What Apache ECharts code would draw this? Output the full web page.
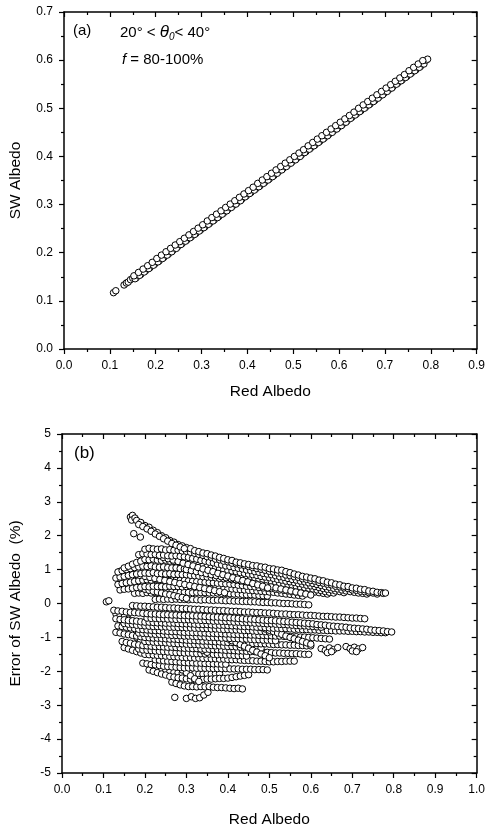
<!DOCTYPE html>
<html><head><meta charset="utf-8">
<script src="https://cdn.jsdelivr.net/npm/echarts@6/dist/echarts.min.js"></script>
<style>html,body{margin:0;padding:0;background:#fff}#c{width:488px;height:831px}</style>
</head><body><div id="c"></div>
<script>
// ---------- tick labels ----------
const topXLabels = ['0.0','0.1','0.2','0.3','0.4','0.5','0.6','0.7','0.8','0.9'];
const topYLabels = ['0.0','0.1','0.2','0.3','0.4','0.5','0.6','0.7'];
const botXLabels = ['0.0','0.1','0.2','0.3','0.4','0.5','0.6','0.7','0.8','0.9','1.0'];
const botYLabels = ['-5','-4','-3','-2','-1','0','1','2','3','4','5'];

// ---------- panel (a): Red albedo vs SW albedo ----------
const topPoints = [
[0.108,0.117],[0.113,0.121],[0.131,0.133],[0.136,0.137],[0.140,0.139],[0.145,0.144],[0.150,0.147],[0.155,0.146],
[0.160,0.154],[0.165,0.153],[0.170,0.161],[0.175,0.160],[0.180,0.168],[0.185,0.167],[0.190,0.175],[0.195,0.174],
[0.200,0.182],[0.205,0.181],[0.210,0.189],[0.215,0.188],[0.220,0.196],[0.225,0.195],[0.230,0.203],[0.235,0.202],
[0.240,0.210],[0.245,0.209],[0.250,0.218],[0.255,0.217],[0.260,0.225],[0.265,0.224],[0.270,0.232],[0.275,0.231],
[0.280,0.239],[0.285,0.238],[0.290,0.246],[0.295,0.245],[0.300,0.253],[0.305,0.252],[0.310,0.260],[0.315,0.259],
[0.320,0.267],[0.325,0.266],[0.330,0.274],[0.335,0.273],[0.340,0.281],[0.345,0.280],[0.350,0.288],[0.355,0.287],
[0.360,0.295],[0.365,0.294],[0.370,0.302],[0.375,0.301],[0.380,0.309],[0.385,0.308],[0.390,0.317],[0.395,0.316],
[0.400,0.324],[0.405,0.323],[0.410,0.331],[0.415,0.330],[0.420,0.338],[0.425,0.337],[0.430,0.345],[0.435,0.344],
[0.440,0.352],[0.445,0.351],[0.450,0.359],[0.455,0.358],[0.460,0.366],[0.465,0.365],[0.470,0.373],[0.475,0.372],
[0.480,0.380],[0.485,0.379],[0.490,0.387],[0.495,0.386],[0.500,0.394],[0.505,0.393],[0.510,0.401],[0.515,0.400],
[0.520,0.409],[0.525,0.408],[0.530,0.416],[0.535,0.415],[0.540,0.423],[0.545,0.422],[0.550,0.430],[0.555,0.429],
[0.560,0.437],[0.565,0.436],[0.570,0.444],[0.575,0.443],[0.580,0.451],[0.585,0.450],[0.590,0.458],[0.595,0.457],
[0.600,0.465],[0.605,0.464],[0.610,0.472],[0.615,0.471],[0.620,0.480],[0.625,0.479],[0.630,0.487],[0.635,0.486],
[0.640,0.494],[0.645,0.493],[0.650,0.501],[0.655,0.500],[0.660,0.508],[0.665,0.507],[0.670,0.515],[0.675,0.514],
[0.680,0.522],[0.685,0.521],[0.690,0.529],[0.695,0.528],[0.700,0.536],[0.705,0.535],[0.710,0.543],[0.715,0.542],
[0.720,0.551],[0.725,0.550],[0.730,0.558],[0.735,0.557],[0.740,0.565],[0.745,0.564],[0.750,0.572],[0.755,0.571],
[0.760,0.579],[0.765,0.578],[0.770,0.586],[0.775,0.585],[0.780,0.593],[0.785,0.592],[0.790,0.600],[0.793,0.602]
];
const topPointsUpper = [
[0.1525,0.152],[0.1625,0.159],[0.1725,0.166],[0.1825,0.173],[0.1925,0.180],[0.2025,0.188],[0.2125,0.195],[0.2225,0.202],
[0.2325,0.209],[0.2425,0.216],[0.2525,0.223],[0.2625,0.230],[0.2725,0.237],[0.2825,0.244],[0.2925,0.251],[0.3025,0.258],
[0.3125,0.266],[0.3225,0.273],[0.3325,0.280],[0.3425,0.287],[0.3525,0.294],[0.3625,0.301],[0.3725,0.308],[0.3825,0.315],
[0.3925,0.322],[0.4025,0.329],[0.4125,0.336],[0.4225,0.344],[0.4325,0.351],[0.4425,0.358],[0.4525,0.365],[0.4625,0.372],
[0.4725,0.379],[0.4825,0.386],[0.4925,0.393],[0.5025,0.400],[0.5125,0.407],[0.5225,0.414],[0.5325,0.422],[0.5425,0.429],
[0.5525,0.436],[0.5625,0.443],[0.5725,0.450],[0.5825,0.457],[0.5925,0.464],[0.6025,0.471],[0.6125,0.478],[0.6225,0.485],
[0.6325,0.492],[0.6425,0.500],[0.6525,0.507],[0.6625,0.514],[0.6725,0.521],[0.6825,0.528],[0.6925,0.535],[0.7025,0.542],
[0.7125,0.549],[0.7225,0.556],[0.7325,0.563],[0.7425,0.570],[0.7525,0.578],[0.7625,0.585],[0.7725,0.592],[0.7825,0.599]
];
const topPointsLower = [
[0.1575,0.148],[0.1675,0.155],[0.1775,0.162],[0.1875,0.169],[0.1975,0.176],[0.2075,0.183],[0.2175,0.190],[0.2275,0.197],
[0.2375,0.205],[0.2475,0.212],[0.2575,0.219],[0.2675,0.226],[0.2775,0.233],[0.2875,0.240],[0.2975,0.247],[0.3075,0.254],
[0.3175,0.261],[0.3275,0.268],[0.3375,0.275],[0.3475,0.282],[0.3575,0.290],[0.3675,0.297],[0.3775,0.304],[0.3875,0.311],
[0.3975,0.318],[0.4075,0.325],[0.4175,0.332],[0.4275,0.339],[0.4375,0.346],[0.4475,0.353],[0.4575,0.360],[0.4675,0.368],
[0.4775,0.375],[0.4875,0.382],[0.4975,0.389],[0.5075,0.396],[0.5175,0.403],[0.5275,0.410],[0.5375,0.417],[0.5475,0.424],
[0.5575,0.431],[0.5675,0.438],[0.5775,0.446],[0.5875,0.453],[0.5975,0.460],[0.6075,0.467],[0.6175,0.474],[0.6275,0.481],
[0.6375,0.488],[0.6475,0.495],[0.6575,0.502],[0.6675,0.509],[0.6775,0.516],[0.6875,0.524],[0.6975,0.531],[0.7075,0.538],
[0.7175,0.545],[0.7275,0.552],[0.7375,0.559],[0.7475,0.566],[0.7575,0.573],[0.7675,0.580],[0.7775,0.587]
];

// ---------- panel (b): Red albedo vs error of SW albedo (%) ----------
const errTopStreak = [
[0.165,2.55],[0.170,2.60],[0.168,2.46],[0.176,2.52],[0.180,2.45],[0.190,2.39],[0.200,2.30],[0.210,2.25],[0.220,2.16],
[0.230,2.09],[0.240,2.00],[0.250,1.94],[0.260,1.86],[0.270,1.81],[0.280,1.74],[0.290,1.70],[0.300,1.65],[0.310,1.62],
[0.320,1.56],[0.330,1.53],[0.340,1.49],[0.350,1.47],[0.360,1.43],[0.370,1.40],[0.380,1.36],[0.390,1.33],[0.400,1.29],
[0.410,1.27],[0.420,1.22],[0.430,1.20],[0.440,1.17],[0.450,1.15],[0.460,1.12],[0.470,1.11],[0.480,1.08],[0.490,1.07],
[0.500,1.03],[0.510,1.02],[0.520,0.99],[0.530,0.98],[0.540,0.94],[0.550,0.91],[0.560,0.87],[0.570,0.84],[0.580,0.80],
[0.590,0.78],[0.600,0.75],[0.610,0.73],[0.620,0.69],[0.630,0.67],[0.640,0.63],[0.650,0.61],[0.660,0.57],[0.670,0.55],
[0.680,0.51],[0.690,0.50],[0.700,0.46],[0.710,0.45],[0.720,0.42],[0.730,0.41],[0.740,0.37],[0.750,0.36],[0.760,0.33],
[0.770,0.32],[0.775,0.30],[0.780,0.31],
[0.173,2.06],[0.189,1.96],[0.185,2.33],[0.195,2.27],[0.205,2.20],[0.215,2.13],[0.225,2.05],[0.235,1.98],[0.245,1.91],
[0.255,1.84],[0.265,1.77],[0.275,1.72],[0.285,1.67],[0.295,1.62]
];
const errUp1 = [
[0.20,1.60],[0.21,1.63],[0.22,1.61],[0.23,1.60],[0.24,1.61],[0.25,1.58],[0.26,1.59],[0.27,1.57],[0.28,1.57],[0.29,1.55],
[0.30,1.54],[0.31,1.51],[0.32,1.48],[0.33,1.45],[0.34,1.42],[0.35,1.38],[0.36,1.36],[0.37,1.31],[0.38,1.29],[0.39,1.25],
[0.40,1.23],[0.41,1.19],[0.42,1.17],[0.43,1.14],[0.44,1.12],[0.45,1.09],[0.46,1.06],[0.47,1.03],[0.48,1.01],[0.49,0.98],
[0.50,0.95],[0.51,0.93],[0.52,0.90],[0.53,0.88],[0.54,0.84],[0.55,0.82],[0.56,0.79],[0.57,0.77],[0.58,0.73],[0.59,0.71],
[0.60,0.68],[0.61,0.66],[0.62,0.62],[0.63,0.60],[0.64,0.57],[0.65,0.55],[0.66,0.51],[0.67,0.49],[0.68,0.46],[0.69,0.44],
[0.70,0.40],[0.71,0.39],[0.72,0.36],[0.73,0.35],[0.74,0.32],[0.75,0.31],[0.76,0.28]
];
const errUp2 = [
[0.185,1.44],[0.195,1.47],[0.205,1.46],[0.215,1.44],[0.225,1.45],[0.235,1.42],[0.245,1.43],[0.255,1.41],[0.265,1.40],
[0.275,1.41],[0.285,1.39],[0.295,1.38],[0.305,1.36],[0.315,1.33],[0.325,1.31],[0.335,1.27],[0.345,1.25],[0.355,1.22],
[0.365,1.20],[0.375,1.16],[0.385,1.14],[0.395,1.11],[0.405,1.09],[0.415,1.06],[0.425,1.04],[0.435,1.02],[0.445,0.99],
[0.455,0.97],[0.465,0.94],[0.475,0.92],[0.485,0.89],[0.495,0.87],[0.505,0.85],[0.515,0.82],[0.525,0.79],[0.535,0.77],
[0.545,0.74],[0.555,0.71],[0.565,0.69],[0.575,0.66],[0.585,0.64],[0.595,0.61],[0.605,0.59],[0.615,0.56],[0.625,0.53],
[0.635,0.50],[0.645,0.48],[0.655,0.45],[0.665,0.43],[0.675,0.40],[0.685,0.37],[0.695,0.35],[0.705,0.33],[0.715,0.31],
[0.725,0.30],[0.735,0.28]
];
const errUp3 = [
[0.15,1.05],[0.16,1.10],[0.17,1.16],[0.18,1.21],[0.19,1.25],[0.20,1.30],[0.21,1.29],[0.22,1.31],[0.23,1.28],[0.24,1.27],
[0.25,1.28],[0.26,1.25],[0.27,1.24],[0.28,1.23],[0.29,1.21],[0.30,1.20],[0.31,1.18],[0.32,1.16],[0.33,1.13],[0.34,1.12],
[0.35,1.09],[0.36,1.07],[0.37,1.05],[0.38,1.02],[0.39,1.00],[0.40,0.98],[0.41,0.96],[0.42,0.94],[0.43,0.91],[0.44,0.89],
[0.45,0.87],[0.46,0.85],[0.47,0.83],[0.48,0.80],[0.49,0.78],[0.50,0.76],[0.51,0.74],[0.52,0.71],[0.53,0.69],[0.54,0.66],
[0.55,0.64],[0.56,0.62],[0.57,0.59],[0.58,0.57],[0.59,0.54],[0.60,0.52],[0.61,0.50],[0.62,0.47],[0.63,0.44],[0.64,0.42],
[0.65,0.40],[0.66,0.37],[0.67,0.35],[0.68,0.32]
];
const errUp4 = [
[0.135,0.93],[0.145,0.97],[0.155,1.00],[0.165,1.03],[0.175,1.06],[0.185,1.08],[0.195,1.10],[0.205,1.09],[0.215,1.11],
[0.225,1.08],[0.235,1.07],[0.245,1.08],[0.255,1.06],[0.265,1.05],[0.275,1.05],[0.285,1.03],[0.295,1.02],[0.305,1.01],
[0.315,0.99],[0.325,0.97],[0.335,0.96],[0.345,0.94],[0.355,0.92],[0.365,0.90],[0.375,0.89],[0.385,0.87],[0.395,0.86],
[0.405,0.84],[0.415,0.82],[0.425,0.80],[0.435,0.78],[0.445,0.76],[0.455,0.75],[0.465,0.73],[0.475,0.71],[0.485,0.69],
[0.495,0.67],[0.505,0.65],[0.515,0.63],[0.525,0.60],[0.535,0.58],[0.545,0.56],[0.555,0.54],[0.565,0.51],[0.575,0.49],
[0.585,0.47],[0.595,0.45],[0.605,0.43],[0.615,0.40],[0.625,0.38],[0.635,0.35],[0.645,0.33],[0.655,0.31]
];
const errUp5 = [
[0.13,0.75],[0.14,0.78],[0.15,0.80],[0.16,0.83],[0.17,0.85],[0.18,0.87],[0.19,0.88],[0.20,0.90],[0.21,0.89],[0.22,0.91],
[0.23,0.88],[0.24,0.88],[0.25,0.87],[0.26,0.88],[0.27,0.86],[0.28,0.86],[0.29,0.85],[0.30,0.85],[0.31,0.83],[0.32,0.82],
[0.33,0.81],[0.34,0.79],[0.35,0.78],[0.36,0.77],[0.37,0.76],[0.38,0.74],[0.39,0.73],[0.40,0.72],[0.41,0.70],[0.42,0.69],
[0.43,0.67],[0.44,0.65],[0.45,0.64],[0.46,0.62],[0.47,0.61],[0.48,0.59],[0.49,0.58],[0.50,0.56],[0.51,0.54],[0.52,0.52],
[0.53,0.50],[0.54,0.48],[0.55,0.46],[0.56,0.44],[0.57,0.42],[0.58,0.40],[0.59,0.38],[0.60,0.36],[0.61,0.34],[0.62,0.32],
[0.63,0.30],[0.64,0.28]
];
const errUp6 = [
[0.135,0.56],[0.145,0.59],[0.155,0.61],[0.165,0.63],[0.175,0.65],[0.185,0.67],[0.195,0.69],[0.205,0.70],[0.215,0.69],
[0.225,0.71],[0.235,0.69],[0.245,0.69],[0.255,0.68],[0.265,0.69],[0.275,0.68],[0.285,0.68],[0.295,0.68],[0.305,0.67],
[0.315,0.66],[0.325,0.65],[0.335,0.64],[0.345,0.63],[0.355,0.62],[0.365,0.61],[0.375,0.60],[0.385,0.59],[0.395,0.58],
[0.405,0.57],[0.415,0.56],[0.425,0.54],[0.435,0.53],[0.445,0.51],[0.455,0.50],[0.465,0.49],[0.475,0.47],[0.485,0.46],
[0.495,0.45],[0.505,0.44],[0.515,0.42],[0.525,0.40],[0.535,0.39],[0.545,0.37],[0.555,0.35],[0.565,0.34],[0.575,0.32],
[0.585,0.30],[0.595,0.29]
];
const errUp7 = [
[0.14,0.40],[0.15,0.42],[0.16,0.43],[0.17,0.45],[0.18,0.47],[0.19,0.48],[0.20,0.50],[0.21,0.49],[0.22,0.51],[0.23,0.50],
[0.24,0.50],[0.25,0.49],[0.26,0.51],[0.27,0.50],[0.28,0.50],[0.29,0.49],[0.30,0.50],[0.31,0.49],[0.32,0.48],[0.33,0.48],
[0.34,0.47],[0.35,0.47],[0.36,0.46],[0.37,0.45],[0.38,0.45],[0.39,0.44],[0.40,0.44],[0.41,0.43],[0.42,0.42],[0.43,0.41],
[0.44,0.40],[0.45,0.39],[0.46,0.38],[0.47,0.37],[0.48,0.36],[0.49,0.35],[0.50,0.34],[0.51,0.33],[0.52,0.31],[0.53,0.30],
[0.54,0.28],[0.55,0.27],[0.56,0.25],[0.57,0.24],[0.58,0.22]
];
const errUp8 = [
[0.175,0.30],[0.185,0.31],[0.195,0.30],[0.205,0.32],[0.215,0.31],[0.225,0.33],[0.235,0.32],[0.245,0.33],[0.255,0.32],
[0.265,0.34],[0.275,0.33],[0.285,0.33],[0.295,0.34],[0.305,0.33],[0.315,0.32],[0.325,0.33],[0.335,0.32],[0.345,0.32],
[0.355,0.31],[0.365,0.31],[0.375,0.31],[0.385,0.30],[0.395,0.30],[0.405,0.29],[0.415,0.28],[0.425,0.28],[0.435,0.27],
[0.445,0.26],[0.455,0.26],[0.465,0.25],[0.475,0.24],[0.485,0.23],[0.495,0.22]
];
const errCross1 = [
[0.140,0.95],[0.152,0.92],[0.164,0.89],[0.176,0.86],[0.188,0.83],[0.200,0.80],[0.212,0.77],[0.224,0.74],[0.236,0.71],
[0.248,0.68],[0.260,0.65],[0.272,0.62],[0.284,0.59],[0.296,0.56],[0.308,0.53],[0.320,0.50],[0.332,0.47],[0.344,0.44],
[0.356,0.41],[0.368,0.38],[0.380,0.35],[0.392,0.32]
];
const errCross2 = [
[0.220,1.45],[0.232,1.41],[0.244,1.36],[0.256,1.32],[0.268,1.28],[0.280,1.24],[0.292,1.19],[0.304,1.15],[0.316,1.11],
[0.328,1.06],[0.340,1.02],[0.352,0.98],[0.364,0.94],[0.376,0.89],[0.388,0.85],[0.400,0.81],[0.412,0.76],[0.424,0.72],
[0.436,0.68],[0.448,0.64],[0.460,0.59],[0.472,0.55],[0.484,0.51],[0.496,0.46]
];
const errCross3 = [
[0.300,1.00],[0.312,0.97],[0.324,0.94],[0.336,0.91],[0.348,0.88],[0.360,0.85],[0.372,0.82],[0.384,0.79],[0.396,0.76],
[0.408,0.73],[0.420,0.70],[0.432,0.67],[0.444,0.64],[0.456,0.61],[0.468,0.58],[0.480,0.55],[0.492,0.52],[0.504,0.49],
[0.516,0.46],[0.528,0.43],[0.540,0.40],[0.552,0.37],[0.564,0.34],[0.576,0.31],[0.588,0.28],[0.600,0.25]
];
const errCross4 = [
[0.15,0.55],[0.16,0.52],[0.17,0.50],[0.18,0.47],[0.19,0.44],[0.20,0.42],[0.21,0.39],[0.22,0.36],[0.23,0.34],[0.24,0.31],
[0.25,0.28],[0.26,0.26],[0.27,0.23],[0.28,0.20],[0.29,0.18],[0.30,0.15]
];
const errMid0 = [
[0.225,0.12],[0.235,0.13],[0.245,0.12],[0.255,0.13],[0.265,0.12],[0.275,0.13],[0.285,0.12],[0.295,0.12],[0.305,0.11],
[0.315,0.12],[0.325,0.11],[0.335,0.10],[0.345,0.11],[0.355,0.10],[0.365,0.09],[0.375,0.10],[0.385,0.09],[0.395,0.08],
[0.405,0.08],[0.415,0.07],[0.425,0.07],[0.435,0.06],[0.445,0.06],[0.455,0.05],[0.465,0.05],[0.475,0.04],[0.485,0.03],
[0.495,0.03],[0.505,0.02],[0.515,0.02],[0.525,0.01],[0.535,0.00],[0.545,0.00],[0.555,-0.01],[0.565,-0.02],[0.575,-0.02],
[0.585,-0.03],[0.595,-0.04]
];
const errLow1 = [
[0.17,-0.06],[0.18,-0.07],[0.19,-0.08],[0.20,-0.08],[0.21,-0.09],[0.22,-0.10],[0.23,-0.11],[0.24,-0.11],[0.25,-0.12],
[0.26,-0.13],[0.27,-0.13],[0.28,-0.14],[0.29,-0.15],[0.30,-0.15],[0.31,-0.16],[0.32,-0.17],[0.33,-0.17],[0.34,-0.18],
[0.35,-0.19],[0.36,-0.19],[0.37,-0.20],[0.38,-0.21],[0.39,-0.21],[0.40,-0.22],[0.41,-0.23],[0.42,-0.23],[0.43,-0.24],
[0.44,-0.25],[0.45,-0.25],[0.46,-0.26],[0.47,-0.27],[0.48,-0.27],[0.49,-0.28],[0.50,-0.28],[0.51,-0.29],[0.52,-0.30],
[0.53,-0.31],[0.54,-0.31],[0.55,-0.32],[0.56,-0.33],[0.57,-0.33],[0.58,-0.34],[0.59,-0.35],[0.60,-0.35],[0.61,-0.36],
[0.62,-0.37],[0.63,-0.38],[0.64,-0.38],[0.65,-0.39],[0.66,-0.40],[0.67,-0.40],[0.68,-0.41],[0.69,-0.42],[0.70,-0.43],
[0.71,-0.43],[0.72,-0.44],[0.73,-0.45]
];
const errLow2 = [
[0.125,-0.20],[0.135,-0.22],[0.145,-0.23],[0.155,-0.25],[0.165,-0.26],[0.175,-0.27],[0.185,-0.28],[0.195,-0.29],
[0.205,-0.30],[0.215,-0.31],[0.225,-0.31],[0.235,-0.32],[0.245,-0.33],[0.255,-0.33],[0.265,-0.34],[0.275,-0.34],
[0.285,-0.35],[0.295,-0.35],[0.305,-0.36],[0.315,-0.36],[0.325,-0.37],[0.335,-0.37],[0.345,-0.38],[0.355,-0.39],
[0.365,-0.40],[0.375,-0.40],[0.385,-0.41],[0.395,-0.42],[0.405,-0.42],[0.415,-0.43],[0.425,-0.44],[0.435,-0.45],
[0.445,-0.46],[0.455,-0.46],[0.465,-0.47],[0.475,-0.48],[0.485,-0.49],[0.495,-0.50],[0.505,-0.50],[0.515,-0.51],
[0.525,-0.52],[0.535,-0.53],[0.545,-0.54],[0.555,-0.55],[0.565,-0.56],[0.575,-0.57],[0.585,-0.58],[0.595,-0.59],
[0.605,-0.60],[0.615,-0.62],[0.625,-0.63],[0.635,-0.64],[0.645,-0.66],[0.655,-0.67],[0.665,-0.68],[0.675,-0.69],
[0.685,-0.70],[0.695,-0.72],[0.705,-0.73],[0.715,-0.74],[0.725,-0.75],[0.735,-0.76],[0.745,-0.78],[0.755,-0.79],
[0.765,-0.80],[0.775,-0.81],[0.785,-0.83],[0.795,-0.84]
];
const errLow3 = [
[0.13,-0.45],[0.14,-0.47],[0.15,-0.48],[0.16,-0.50],[0.17,-0.51],[0.18,-0.52],[0.19,-0.54],[0.20,-0.55],[0.21,-0.55],
[0.22,-0.56],[0.23,-0.57],[0.24,-0.57],[0.25,-0.58],[0.26,-0.58],[0.27,-0.58],[0.28,-0.59],[0.29,-0.60],[0.30,-0.60],
[0.31,-0.60],[0.32,-0.61],[0.33,-0.62],[0.34,-0.62],[0.35,-0.62],[0.36,-0.63],[0.37,-0.64],[0.38,-0.64],[0.39,-0.64],
[0.40,-0.65],[0.41,-0.66],[0.42,-0.66],[0.43,-0.67],[0.44,-0.68],[0.45,-0.68],[0.46,-0.69],[0.47,-0.70],[0.48,-0.70],
[0.49,-0.71],[0.50,-0.72],[0.51,-0.73],[0.52,-0.73],[0.53,-0.74],[0.54,-0.74],[0.55,-0.75],[0.56,-0.76],[0.57,-0.76],
[0.58,-0.77],[0.59,-0.77],[0.60,-0.78],[0.61,-0.78],[0.62,-0.79],[0.63,-0.79],[0.64,-0.80],[0.65,-0.80],[0.66,-0.81],
[0.67,-0.81],[0.68,-0.81],[0.69,-0.82],[0.70,-0.82],[0.71,-0.83],[0.72,-0.83],[0.73,-0.84],[0.74,-0.84],[0.75,-0.85],
[0.76,-0.85],[0.77,-0.86],[0.78,-0.86]
];
const errLow4 = [
[0.135,-0.66],[0.145,-0.68],[0.155,-0.70],[0.165,-0.72],[0.175,-0.74],[0.185,-0.76],[0.195,-0.77],[0.205,-0.78],
[0.215,-0.79],[0.225,-0.80],[0.235,-0.80],[0.245,-0.81],[0.255,-0.82],[0.265,-0.83],[0.275,-0.83],[0.285,-0.84],
[0.295,-0.85],[0.305,-0.85],[0.315,-0.86],[0.325,-0.86],[0.335,-0.87],[0.345,-0.87],[0.355,-0.88],[0.365,-0.88],
[0.375,-0.89],[0.385,-0.89],[0.395,-0.90],[0.405,-0.90],[0.415,-0.91],[0.425,-0.91],[0.435,-0.92],[0.445,-0.92],
[0.455,-0.93],[0.465,-0.93],[0.475,-0.94],[0.485,-0.94],[0.495,-0.95],[0.505,-0.95],[0.515,-0.96],[0.525,-0.96],
[0.535,-0.97],[0.545,-0.97],[0.555,-0.98],[0.565,-0.98],[0.575,-0.99],[0.585,-0.99],[0.595,-1.00],[0.605,-1.01],
[0.615,-1.02],[0.625,-1.03],[0.635,-1.04],[0.645,-1.05]
];
const errLow5 = [
[0.13,-0.85],[0.14,-0.87],[0.15,-0.90],[0.16,-0.92],[0.17,-0.94],[0.18,-0.96],[0.19,-0.98],[0.20,-1.00],[0.21,-1.01],
[0.22,-1.02],[0.23,-1.02],[0.24,-1.03],[0.25,-1.04],[0.26,-1.05],[0.27,-1.05],[0.28,-1.06],[0.29,-1.07],[0.30,-1.08],
[0.31,-1.09],[0.32,-1.09],[0.33,-1.10],[0.34,-1.11],[0.35,-1.11],[0.36,-1.12],[0.37,-1.13],[0.38,-1.13],[0.39,-1.14],
[0.40,-1.15],[0.41,-1.15],[0.42,-1.16],[0.43,-1.16],[0.44,-1.17],[0.45,-1.17],[0.46,-1.18],[0.47,-1.18],[0.48,-1.19],
[0.49,-1.19],[0.50,-1.20],[0.51,-1.21],[0.52,-1.21],[0.53,-1.22],[0.54,-1.22],[0.55,-1.23],[0.56,-1.23],[0.57,-1.24],
[0.58,-1.24],[0.59,-1.25],[0.60,-1.25],
[0.625,-1.33],[0.635,-1.38],[0.645,-1.31],[0.655,-1.36],[0.665,-1.30],[0.640,-1.45],[0.650,-1.42],
[0.685,-1.27],[0.695,-1.33],[0.705,-1.29],[0.715,-1.34],[0.725,-1.30],[0.700,-1.40],[0.710,-1.42]
];
const errLow6 = [
[0.145,-1.12],[0.155,-1.15],[0.165,-1.17],[0.175,-1.20],[0.185,-1.22],[0.195,-1.24],[0.205,-1.25],[0.215,-1.26],
[0.225,-1.27],[0.235,-1.27],[0.245,-1.28],[0.255,-1.29],[0.265,-1.29],[0.275,-1.30],[0.285,-1.31],[0.295,-1.32],
[0.305,-1.32],[0.315,-1.33],[0.325,-1.33],[0.335,-1.34],[0.345,-1.35],[0.355,-1.35],[0.365,-1.36],[0.375,-1.36],
[0.385,-1.37],[0.395,-1.38],[0.405,-1.38],[0.415,-1.39],[0.425,-1.40],[0.435,-1.40],[0.445,-1.41],[0.455,-1.42],
[0.465,-1.42],[0.475,-1.43],[0.485,-1.44],[0.495,-1.44],[0.505,-1.45],[0.515,-1.46],[0.525,-1.46],[0.535,-1.47],
[0.545,-1.47],[0.555,-1.48],[0.565,-1.48],[0.575,-1.49],[0.585,-1.50],[0.595,-1.50]
];
const errLow7 = [
[0.15,-1.30],[0.16,-1.34],[0.17,-1.38],[0.18,-1.42],[0.19,-1.46],[0.20,-1.50],[0.21,-1.51],[0.22,-1.52],[0.23,-1.53],
[0.24,-1.54],[0.25,-1.55],[0.26,-1.56],[0.27,-1.57],[0.28,-1.58],[0.29,-1.59],[0.30,-1.60],[0.31,-1.60],[0.32,-1.61],
[0.33,-1.61],[0.34,-1.62],[0.35,-1.62],[0.36,-1.63],[0.37,-1.63],[0.38,-1.64],[0.39,-1.64],[0.40,-1.65],[0.41,-1.66],
[0.42,-1.66],[0.43,-1.67],[0.44,-1.68],[0.45,-1.68],[0.46,-1.69],[0.47,-1.70],[0.48,-1.70],[0.49,-1.71],[0.50,-1.72],
[0.51,-1.72],[0.52,-1.71],[0.53,-1.71],[0.54,-1.70],[0.55,-1.70],[0.56,-1.70]
];
const errLow8 = [
[0.195,-1.76],[0.205,-1.78],[0.215,-1.80],[0.225,-1.81],[0.235,-1.83],[0.245,-1.85],[0.255,-1.86],[0.265,-1.87],
[0.275,-1.88],[0.285,-1.89],[0.295,-1.90],[0.305,-1.90],[0.315,-1.90],[0.325,-1.91],[0.335,-1.91],[0.345,-1.91],
[0.355,-1.91],[0.365,-1.92],[0.375,-1.92],[0.385,-1.92],[0.395,-1.92],[0.405,-1.93],[0.415,-1.93],[0.425,-1.93],
[0.435,-1.94],[0.445,-1.94],[0.455,-1.94],[0.465,-1.95],[0.475,-1.95],[0.485,-1.95],[0.495,-1.96]
];
const errLow9 = [
[0.21,-1.96],[0.22,-2.00],[0.23,-2.04],[0.24,-2.08],[0.25,-2.11],[0.26,-2.15],[0.27,-2.17],[0.28,-2.19],[0.29,-2.20],
[0.30,-2.22],[0.31,-2.24],[0.32,-2.25],[0.33,-2.24],[0.34,-2.24],[0.35,-2.23],[0.36,-2.23],[0.37,-2.22],[0.38,-2.21],
[0.39,-2.21],[0.40,-2.20],[0.41,-2.18],[0.42,-2.16],[0.43,-2.14],[0.44,-2.12],[0.45,-2.10]
];
const errLow10 = [
[0.265,-2.32],[0.275,-2.36],[0.285,-2.40],[0.295,-2.43],[0.305,-2.45],[0.315,-2.45],[0.325,-2.46],[0.335,-2.45],
[0.345,-2.46],[0.355,-2.45],[0.365,-2.47],[0.375,-2.48],[0.385,-2.48],[0.395,-2.49],[0.405,-2.50],[0.415,-2.51],
[0.425,-2.50],[0.435,-2.52]
];
const errLow11 = [
[0.272,-2.77],[0.300,-2.80],[0.312,-2.75],[0.322,-2.80],[0.332,-2.78],[0.342,-2.70],[0.352,-2.62]
];
const errMid1 = [
[0.205,-0.43],[0.215,-0.44],[0.225,-0.44],[0.235,-0.45],[0.245,-0.45],[0.255,-0.46],[0.265,-0.46],[0.275,-0.47],
[0.285,-0.47],[0.295,-0.48],[0.305,-0.48],[0.315,-0.49],[0.325,-0.49],[0.335,-0.50],[0.345,-0.50],[0.355,-0.51],
[0.365,-0.52],[0.375,-0.52],[0.385,-0.53],[0.395,-0.53],[0.405,-0.54],[0.415,-0.55],[0.425,-0.55],[0.435,-0.56],
[0.445,-0.56],[0.455,-0.57],[0.465,-0.58],[0.475,-0.58],[0.485,-0.59],[0.495,-0.60],[0.505,-0.60],[0.515,-0.61],
[0.525,-0.62],[0.535,-0.62],[0.545,-0.63],[0.555,-0.64],[0.565,-0.65],[0.575,-0.66],[0.585,-0.66],[0.595,-0.67],
[0.605,-0.68],[0.615,-0.69],[0.625,-0.70]
];
const errMid2 = [
[0.15,-0.59],[0.16,-0.61],[0.17,-0.62],[0.18,-0.64],[0.19,-0.65],[0.20,-0.66],[0.21,-0.67],[0.22,-0.68],[0.23,-0.68],
[0.24,-0.69],[0.25,-0.69],[0.26,-0.70],[0.27,-0.70],[0.28,-0.71],[0.29,-0.71],[0.30,-0.72],[0.31,-0.72],[0.32,-0.73],
[0.33,-0.73],[0.34,-0.74],[0.35,-0.74],[0.36,-0.75],[0.37,-0.75],[0.38,-0.76],[0.39,-0.77],[0.40,-0.77],[0.41,-0.78],
[0.42,-0.78],[0.43,-0.79],[0.44,-0.80],[0.45,-0.80],[0.46,-0.81],[0.47,-0.82],[0.48,-0.82],[0.49,-0.83],[0.50,-0.84]
];
const errMid3 = [
[0.185,-0.87],[0.195,-0.88],[0.205,-0.89],[0.215,-0.90],[0.225,-0.91],[0.235,-0.91],[0.245,-0.92],[0.255,-0.93],
[0.265,-0.94],[0.275,-0.94],[0.285,-0.95],[0.295,-0.96],[0.305,-0.96],[0.315,-0.97],[0.325,-0.98],[0.335,-0.98],
[0.345,-0.99],[0.355,-1.00],[0.365,-1.00],[0.375,-1.01],[0.385,-1.02],[0.395,-1.02],[0.405,-1.03],[0.415,-1.03],
[0.425,-1.04],[0.435,-1.05],[0.445,-1.05],[0.455,-1.06],[0.465,-1.07],[0.475,-1.07],[0.485,-1.08],[0.495,-1.08],
[0.505,-1.09],[0.515,-1.10]
];
const errMid4 = [
[0.20,-1.12],[0.21,-1.13],[0.22,-1.14],[0.23,-1.15],[0.24,-1.15],[0.25,-1.16],[0.26,-1.17],[0.27,-1.18],[0.28,-1.19],
[0.29,-1.19],[0.30,-1.20],[0.31,-1.21],[0.32,-1.21],[0.33,-1.22],[0.34,-1.23],[0.35,-1.23],[0.36,-1.24],[0.37,-1.25],
[0.38,-1.25],[0.39,-1.26],[0.40,-1.27],[0.41,-1.27],[0.42,-1.28],[0.43,-1.29],[0.44,-1.30],[0.45,-1.30],[0.46,-1.31],
[0.47,-1.32],[0.48,-1.32]
];
const errMid5 = [
[0.185,-1.34],[0.195,-1.37],[0.205,-1.38],[0.215,-1.39],[0.225,-1.40],[0.235,-1.41],[0.245,-1.42],[0.255,-1.43],
[0.265,-1.44],[0.275,-1.45],[0.285,-1.45],[0.295,-1.46],[0.305,-1.46],[0.315,-1.47],[0.325,-1.48],[0.335,-1.48],
[0.345,-1.49],[0.355,-1.49],[0.365,-1.50],[0.375,-1.51],[0.385,-1.51],[0.395,-1.52],[0.405,-1.52],[0.415,-1.53],
[0.425,-1.54],[0.435,-1.54],[0.445,-1.55]
];
const errMid6 = [
[0.225,-1.66],[0.235,-1.67],[0.245,-1.69],[0.255,-1.70],[0.265,-1.71],[0.275,-1.72],[0.285,-1.73],[0.295,-1.74],
[0.305,-1.75],[0.315,-1.75],[0.325,-1.76],[0.335,-1.76],[0.345,-1.77],[0.355,-1.77],[0.365,-1.78],[0.375,-1.78],
[0.385,-1.79],[0.395,-1.79]
];
const errMid7 = [
[0.24,-1.98],[0.25,-2.00],[0.26,-2.01],[0.27,-2.03],[0.28,-2.04],[0.29,-2.05],[0.30,-2.06],[0.31,-2.07],[0.32,-2.07],
[0.33,-2.08],[0.34,-2.08],[0.35,-2.07],[0.36,-2.07],[0.37,-2.06],[0.38,-2.06]
];
const errCross5 = [
[0.13,-0.30],[0.14,-0.35],[0.15,-0.40],[0.16,-0.46],[0.17,-0.51],[0.18,-0.56],[0.19,-0.61],[0.20,-0.66],[0.21,-0.72],
[0.22,-0.77],[0.23,-0.82],[0.24,-0.87],[0.25,-0.92],[0.26,-0.98],[0.27,-1.03],[0.28,-1.08],[0.29,-1.13],[0.30,-1.18],
[0.31,-1.24],[0.32,-1.29],[0.33,-1.34],[0.34,-1.39],[0.35,-1.44]
];
const errCross6 = [
[0.25,-0.20],[0.26,-0.26],[0.27,-0.31],[0.28,-0.37],[0.29,-0.42],[0.30,-0.48],[0.31,-0.54],[0.32,-0.59],[0.33,-0.65],
[0.34,-0.70],[0.35,-0.76],[0.36,-0.82],[0.37,-0.87],[0.38,-0.93],[0.39,-0.98],[0.40,-1.04],[0.41,-1.10],[0.42,-1.15],
[0.43,-1.21],[0.44,-1.26],[0.45,-1.32],[0.46,-1.38],[0.47,-1.43],[0.48,-1.49],[0.49,-1.54],[0.50,-1.60]
];
const errCross7 = [
[0.18,-1.00],[0.19,-1.09],[0.20,-1.17],[0.21,-1.26],[0.22,-1.35],[0.23,-1.43],[0.24,-1.52],[0.25,-1.61],[0.26,-1.70],
[0.27,-1.78],[0.28,-1.87],[0.29,-1.96],[0.30,-2.04],[0.31,-2.13],[0.32,-2.22],[0.33,-2.30]
];
const errCross8 = [
[0.38,-0.30],[0.39,-0.34],[0.40,-0.38],[0.41,-0.42],[0.42,-0.46],[0.43,-0.50],[0.44,-0.55],[0.45,-0.59],[0.46,-0.63],
[0.47,-0.67],[0.48,-0.71],[0.49,-0.75],[0.50,-0.79],[0.51,-0.83],[0.52,-0.87],[0.53,-0.91],[0.54,-0.96],[0.55,-1.00],
[0.56,-1.04],[0.57,-1.08],[0.58,-1.12],[0.59,-1.16],[0.60,-1.20]
];
const errIsolated = [[0.107,0.05],[0.113,0.08]];

const errPoints = [].concat(
  errLow11, errLow10, errMid7, errLow9, errCross7, errLow8, errMid6, errLow7, errMid5, errCross5, errLow6, errMid4, errLow5,
  errCross6, errMid3, errLow4, errMid2, errCross8, errLow3, errMid1, errLow2, errLow1, errMid0,
  errUp8, errCross4, errUp7, errUp6, errCross1, errUp5, errUp4, errCross3, errUp3, errCross2, errUp2, errUp1,
  errTopStreak, errIsolated
);
const swPoints = [].concat(topPointsLower, topPoints, topPointsUpper);

// ---------- chart ----------
const FONT = '"Liberation Sans", Arial, sans-serif';
const lineStyle = {color:'#000', width:1.5};
const tickStyle = {color:'#000', width:1.2};
function mkX(grid, max, labels, pos, showLab) {
  return {
    gridIndex: grid, type:'value', min:0, max:max, interval:0.1, position:pos,
    axisLine:{show:true, onZero:false, lineStyle:lineStyle},
    axisTick:{show:true, inside:!showLab, length:5, lineStyle:tickStyle},
    minorTick:{show:true, splitNumber:2, length:3, lineStyle:tickStyle},
    splitLine:{show:false}, minorSplitLine:{show:false},
    axisLabel:{show:showLab, margin:11, color:'#000', fontSize:12, fontFamily:FONT,
      formatter:(v)=>labels[Math.round(v*10)]},
    name: showLab ? 'Red Albedo' : '', nameLocation:'middle',
    nameGap: grid===0 ? 35 : 39,
    nameTextStyle:{color:'#000', fontSize:15.5, fontFamily:FONT}
  };
}
function mkY(grid, min, max, interval, labels, pos, showLab, name, gap, idxFn) {
  return {
    gridIndex: grid, type:'value', min:min, max:max, interval:interval, position:pos,
    axisLine:{show:true, onZero:false, lineStyle:lineStyle},
    axisTick:{show:true, inside:!showLab, length:5, lineStyle:tickStyle},
    minorTick:{show:true, splitNumber:2, length:3, lineStyle:tickStyle},
    splitLine:{show:false}, minorSplitLine:{show:false},
    axisLabel:{show:showLab, margin:11, color:'#000', fontSize:12, fontFamily:FONT,
      formatter:(v)=>labels[idxFn(v)]},
    name: showLab ? name : '', nameLocation:'middle', nameGap:gap,
    nameTextStyle:{color:'#000', fontSize:15.5, fontFamily:FONT}
  };
}
const topIdx = v => Math.round(v*10);
const botIdx = v => Math.round(v+5);

const chart = echarts.init(document.getElementById('c'), null, {renderer:'canvas'});
const sym = {symbol:'circle', symbolSize:6.5, itemStyle:{color:'#fff', borderColor:'#000', borderWidth:1, opacity:1}};
chart.setOption({
  animation:false,
  backgroundColor:'#fff',
  grid:[
    {left:62, top:12, width:419, height:337},
    {left:60, top:434, width:421, height:339}
  ],
  xAxis:[
    mkX(0, 0.9, topXLabels, 'bottom', true),
    mkX(0, 0.9, topXLabels, 'top', false),
    mkX(1, 1.0, botXLabels, 'bottom', true),
    mkX(1, 1.0, botXLabels, 'top', false)
  ],
  yAxis:[
    mkY(0, 0, 0.7, 0.1, topYLabels, 'left', true, 'SW Albedo', 40, topIdx),
    mkY(0, 0, 0.7, 0.1, topYLabels, 'right', false, '', 40, topIdx),
    mkY(1, -5, 5, 1, botYLabels, 'left', true, 'Error of SW Albedo  (%)', 38, botIdx),
    mkY(1, -5, 5, 1, botYLabels, 'right', false, '', 38, botIdx)
  ],
  series:[
    Object.assign({type:'scatter', xAxisIndex:0, yAxisIndex:0, data:swPoints, large:false, progressive:0}, sym),
    Object.assign({type:'scatter', xAxisIndex:2, yAxisIndex:2, data:errPoints, large:false, progressive:0}, sym)
  ],
  graphic:[
    {type:'text', left:73, top:23, style:{text:'(a)', fill:'#000', font:'15px ' + FONT}},
    {type:'text', left:120, top:24, style:{
      text:'20° < {th|θ}{sub|0}< 40°', fill:'#000', font:'15px ' + FONT,
      rich:{
        th:{fontSize:17, fontStyle:'italic', fontFamily:FONT, fill:'#000'},
        sub:{fontSize:10, fontStyle:'italic', fontFamily:FONT, fill:'#000', padding:[9,0,0,0]}
      }}},
    {type:'text', left:122, top:52, style:{
      text:'{i|f} = 80-100%', fill:'#000', font:'15px ' + FONT,
      rich:{i:{fontStyle:'italic', fontSize:15, fontFamily:FONT, fill:'#000'}}}},
    {type:'text', left:74, top:445, style:{text:'(b)', fill:'#000', font:'17px ' + FONT}}
  ]
});
</script>
</body></html>
